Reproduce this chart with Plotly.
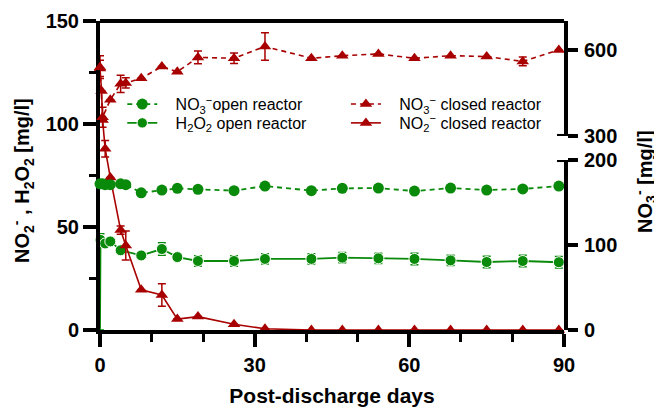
import plotly.graph_objects as go

# ---------------- data ----------------
days_no3_open = [0, 0.5, 1, 2, 4, 5, 8, 12, 15, 19, 26, 32, 41, 47, 54, 61, 68, 75, 82, 89]
no3_open = [172, 172, 171, 171, 172, 171, 161.5, 164.7, 166.7, 165.5, 164, 169.4, 164, 166.7, 167, 163.5, 167, 164.7, 166, 169.4]
no3_open_err = [2, 2, 2, 2, 2, 2, 1.5, 1.5, 1.5, 1.5, 1.5, 1.5, 1.5, 1.5, 1.5, 1.5, 1.5, 1.5, 1.5, 1.5]

days_h2o2_open = [0, 0.1, 1, 2, 4, 8, 12, 15, 19, 26, 32, 41, 47, 54, 61, 68, 75, 82, 89]
h2o2_open = [0, 43.7, 42, 43, 38.7, 36.2, 39.3, 35.4, 33.5, 33.5, 34.5, 34.5, 35.1, 34.8, 34.5, 33.8, 33, 33.5, 32.9]
h2o2_open_err = [0, 3, 0, 0, 1.5, 0, 3, 0, 2.5, 2.5, 2.5, 2.5, 2.5, 2.5, 2.8, 2.5, 2.8, 2.8, 2.8]

days_no3_closed = [0, 0.5, 2, 4, 5, 8, 12, 15, 19, 26, 32, 41, 47, 54, 61, 68, 75, 82, 89]
no3_closed = [540, 365, 426, 482, 485, 501, 542, 524, 574, 571, 612, 571, 580, 586, 571, 580, 577, 560, 600]
no3_closed_err = [40, 35, 0, 30, 18, 0, 0, 0, 22, 18, 48, 0, 0, 0, 0, 0, 0, 15, 0]

days_no2_closed = [0, 0.3, 0.5, 1, 2, 4, 5, 8, 12, 15, 19, 26, 32, 41, 47, 54, 61, 68, 75, 82, 89]
no2_closed = [127, 116, 102, 88, 74, 48.5, 41, 19.5, 17, 5.3, 6.5, 2.8, 0.6, 0, 0, 0, 0, 0, 0, 0, 0]
no2_closed_err = [4, 0, 0, 4, 0, 2, 7, 0, 5.5, 0, 0, 0, 0, 0, 0, 0, 0, 0, 0, 0, 0]

x_ticks = [0, 30, 60, 90]
left_ticks = [0, 50, 100, 150]
right_low_ticks = [0, 100, 200]
right_high_ticks = [300, 600]

GREEN = "#0a8a0a"
RED = "#a80000"
FONT = "Liberation Sans, Arial, sans-serif"
GAP = "\u00a0\u00a0\u00a0"

fig = go.Figure()

def err(arr, color):
    return dict(type="data", array=arr, visible=True, color=color, thickness=1.5, width=4)

fig.add_trace(go.Scatter(
    x=days_no3_open, y=no3_open, yaxis="y2", mode="lines+markers",
    name=GAP + "NO<sub>3</sub><sup>−</sup>open reactor",
    line=dict(color=GREEN, width=1.8, dash="5px,4px"),
    marker=dict(symbol="circle", size=11, color=GREEN, opacity=1),
    error_y=err(no3_open_err, GREEN), cliponaxis=False, legend="legend"))
fig.add_trace(go.Scatter(
    x=days_h2o2_open, y=h2o2_open, yaxis="y", mode="lines+markers",
    name=GAP + "H<sub>2</sub>O<sub>2</sub> open reactor",
    line=dict(color=GREEN, width=1.8),
    marker=dict(symbol="circle", size=[0] + [11] * (len(h2o2_open) - 1), color=GREEN, opacity=1),
    error_y=err(h2o2_open_err, GREEN), cliponaxis=False, legend="legend2"))
fig.add_trace(go.Scatter(
    x=days_no3_closed, y=no3_closed, yaxis="y3", mode="lines+markers",
    name=GAP + "NO<sub>3</sub><sup>−</sup> closed reactor",
    line=dict(color=RED, width=1.6, dash="5px,4px"),
    marker=dict(symbol="triangle-up", size=11, color=RED, opacity=1),
    error_y=err(no3_closed_err, RED), cliponaxis=False, legend="legend3"))
fig.add_trace(go.Scatter(
    x=days_no2_closed, y=no2_closed, yaxis="y", mode="lines+markers",
    name=GAP + "NO<sub>2</sub><sup>−</sup> closed reactor",
    line=dict(color=RED, width=1.6),
    marker=dict(symbol="triangle-up", size=11, color=RED, opacity=1),
    error_y=err(no2_closed_err, RED), cliponaxis=False, legend="legend4"))

tickfont = dict(family=FONT, size=20, color="black", weight="bold")

def leg(x, y):
    return dict(x=x, y=y, xanchor="left", yanchor="top", bgcolor="rgba(0,0,0,0)",
                font=dict(family=FONT, size=16, color="black"), tracegroupgap=0, itemwidth=30)

# page body has an 8px margin, so the figure is 8px smaller to fit the window
fig.update_layout(
    width=654, height=401,
    margin=dict(l=92, r=98, t=13, b=79, autoexpand=False),
    paper_bgcolor="white", plot_bgcolor="rgba(0,0,0,0)",
    font=dict(family=FONT, color="black"),
    xaxis=dict(range=[0, 90], tickvals=x_ticks, showgrid=False, zeroline=False,
               showline=True, linewidth=4, linecolor="black", automargin=False,
               ticks="outside", ticklen=13, tickwidth=4, tickcolor="black",
               minor=dict(tickvals=[10, 20, 40, 50, 70, 80], ticks="outside", ticklen=8, tickwidth=3, tickcolor="black"),
               tickfont=tickfont, ticklabelstandoff=1,
               title=dict(text="Post-discharge days", font=dict(family=FONT, size=21, weight="bold"), standoff=14),
               anchor="y"),
    yaxis=dict(range=[0, 150], tickvals=left_ticks, showgrid=False, zeroline=False,
               showline=True, linewidth=4, linecolor="black", automargin=False,
               ticks="outside", ticklen=13, tickwidth=4, tickcolor="black",
               minor=dict(tickvals=[25, 75, 125], ticks="outside", ticklen=7, tickwidth=3, tickcolor="black"),
               tickfont=tickfont, domain=[0, 1], anchor="x"),
    yaxis2=dict(range=[0, 200], tickvals=right_low_ticks, showgrid=False, zeroline=False,
                showline=True, linewidth=4, linecolor="black", automargin=False,
                ticks="outside", ticklen=10, tickwidth=4, tickcolor="black", ticklabelstandoff=2,
                tickfont=tickfont, domain=[0, 0.55], anchor="x", side="right"),
    yaxis3=dict(range=[300, 701], tickvals=right_high_ticks, showgrid=False, zeroline=False,
                showline=True, linewidth=4, linecolor="black", automargin=False,
                ticks="outside", ticklen=10, tickwidth=4, tickcolor="black", ticklabelstandoff=2,
                tickfont=tickfont, domain=[0.628, 1], anchor="x", side="right"),
    legend=leg(0.048, 0.786),
    legend2=leg(0.048, 0.725),
    legend3=leg(0.53, 0.786),
    legend4=leg(0.53, 0.725),
    showlegend=True,
)

# top frame line
fig.add_shape(type="line", xref="paper", yref="paper", x0=0, x1=1, y0=1, y1=1,
              line=dict(color="black", width=4))
# axis-break caps (inward half)
for yr, yv in (("y3", 300), ("y2", 200)):
    fig.add_shape(type="line", xref="paper", yref=yr, xsizemode="pixel", xanchor=1,
                  x0=-7, x1=8, y0=yv, y1=yv, line=dict(color="black", width=4))

# axis titles
fig.add_annotation(text="NO<sub>2</sub><sup>-</sup> , H<sub>2</sub>O<sub>2</sub> [mg/l]",
                   xref="paper", yref="paper", x=-0.167, y=0.484, textangle=-90, showarrow=False,
                   xanchor="center", yanchor="middle",
                   font=dict(family=FONT, size=20, color="black", weight="bold"))
fig.add_annotation(text="NO<sub>3</sub><sup>-</sup> [mg/l]",
                   xref="paper", yref="paper", x=1.175, y=0.48, textangle=-90, showarrow=False,
                   xanchor="center", yanchor="middle",
                   font=dict(family=FONT, size=20, color="black", weight="bold"))

fig.write_html("out.html")
